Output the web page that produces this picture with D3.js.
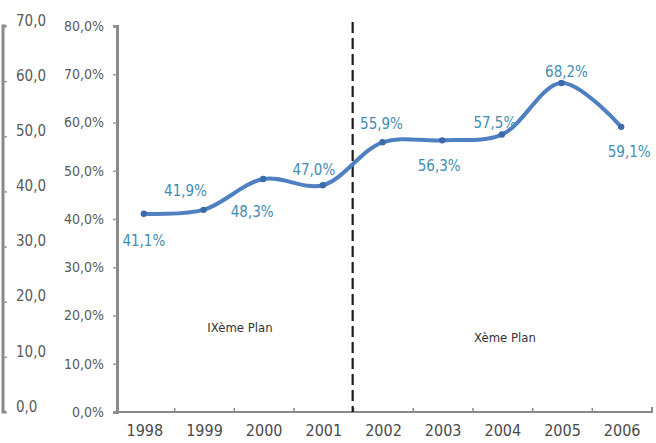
<!DOCTYPE html>
<html><head><meta charset="utf-8">
<script src="https://cdn.jsdelivr.net/npm/d3@7"></script>
<style>
body{margin:0;background:#fff;}
text{font-family:"DejaVu Sans Condensed",sans-serif;}
</style></head>
<body><svg id="c" width="656" height="443"></svg>
<script>
const years = ["1998","1999","2000","2001","2002","2003","2004","2005","2006"];
const values = [41.1, 41.9, 48.3, 47.0, 55.9, 56.3, 57.5, 68.2, 59.1];
const valueLabels = ["41,1%","41,9%","48,3%","47,0%","55,9%","56,3%","57,5%","68,2%","59,1%"];
const pctTicks = [0,10,20,30,40,50,60,70,80];
const leftTicks = [0,10,20,30,40,50,60,70];
const planLabels = ["IXème Plan","Xème Plan"];

const svg = d3.select("#c");
const x = d3.scaleBand().domain(years).range([115,652]);
const y = d3.scaleLinear().domain([0,80]).range([412,26]);
const yl = d3.scaleLinear().domain([0,70]).range([412,26]);
const fmt = d => d.toFixed(1).replace(".",",");

// left secondary axis
const gl = svg.append("g").attr("transform","translate(4,0)")
  .call(d3.axisRight(yl).tickValues(leftTicks).tickSize(3).tickPadding(9).tickFormat(fmt));
gl.select(".domain").attr("stroke","#8a8a8a").attr("stroke-width",3).attr("d","M2,26H-1V412H2");
gl.selectAll(".tick line").attr("stroke","#999").attr("stroke-width",1.5);
gl.selectAll(".tick text").attr("fill","#5a5a5a").attr("font-size",15).attr("dy","-0.05em");

// right percent axis
const gy = svg.append("g").attr("transform","translate(117,0)")
  .call(d3.axisLeft(y).tickValues(pctTicks).tickSize(4).tickPadding(9).tickFormat(d=>fmt(d)+"%"));
gy.select(".domain").attr("stroke","#8a8a8a").attr("stroke-width",3);
gy.selectAll(".tick line").attr("stroke","#999").attr("stroke-width",1.5);
gy.selectAll(".tick text").attr("fill","#5a5a5a").attr("font-size",14);

// x axis
const gx = svg.append("g").attr("transform","translate(0,412)")
  .call(d3.axisBottom(x).tickSize(0).tickPadding(13));
gx.select(".domain").attr("stroke","#8a8a8a").attr("stroke-width",2).attr("d","M115,0H652V-5");
gx.selectAll(".tick text").attr("fill","#4a4a4a").attr("font-size",16);
gx.selectAll(".bt").data(years.slice(1)).enter().append("line")
  .attr("x1",d=>x(d)).attr("x2",d=>x(d)).attr("y1",0).attr("y2",-4)
  .attr("stroke","#8a8a8a").attr("stroke-width",1.5);

// dashed separator
svg.append("line").attr("x1",x("2002")-1).attr("x2",x("2002")-1).attr("y1",22).attr("y2",412)
  .attr("stroke","#1a1a1a").attr("stroke-width",2.2).attr("stroke-dasharray","11,5");

const pts = years.map((yr,i)=>[x(yr)+x.bandwidth()/2 - 1, y(values[i])]);
svg.append("path").datum(pts)
  .attr("d", d3.line().curve(d3.curveCatmullRom.alpha(0.5)))
  .attr("fill","none").attr("stroke","#4f80c2").attr("stroke-width",4);
svg.selectAll(".mk").data(pts).enter().append("circle")
  .attr("cx",d=>d[0]).attr("cy",d=>d[1]).attr("r",3.2).attr("fill","#3d6aa8");

// data labels offsets (dx, dy relative to point)
const off = [[0,28],[-18,-18],[-11,34],[-9,-15],[-1,-18],[-3,26],[-7,-11],[5,-10],[8,26]];
svg.selectAll(".dl").data(values).enter().append("text")
  .attr("x",(d,i)=>pts[i][0]+off[i][0]).attr("y",(d,i)=>pts[i][1]+off[i][1])
  .attr("text-anchor","middle").attr("dominant-baseline","middle")
  .attr("fill","#3f8db0").attr("font-size",15).text((d,i)=>valueLabels[i]);

svg.append("text").attr("x",240).attr("y",328).attr("text-anchor","middle")
  .attr("dominant-baseline","middle").attr("fill","#333").attr("font-size",13).text(planLabels[0]);
svg.append("text").attr("x",505).attr("y",338).attr("text-anchor","middle")
  .attr("dominant-baseline","middle").attr("fill","#333").attr("font-size",13).text(planLabels[1]);
</script></body></html>
